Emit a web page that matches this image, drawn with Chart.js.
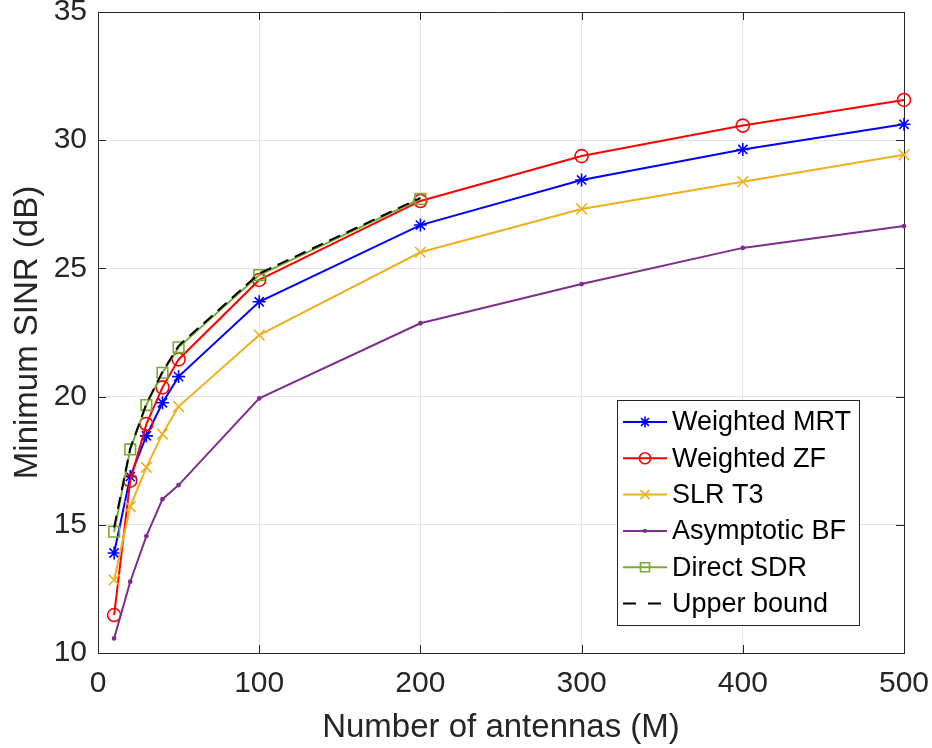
<!DOCTYPE html>
<html>
<head>
<meta charset="utf-8">
<script src="https://cdn.jsdelivr.net/npm/chart.js@4.4.1/dist/chart.umd.min.js"></script>
<style>
html,body{margin:0;padding:0;background:#fff;}
#wrap{width:932px;height:748px;}
</style>
</head>
<body>
<div id="wrap"><canvas id="c" width="932" height="748"></canvas></div>
<script>
// ---- Data ----
const antennas = [10, 20, 30, 40, 50, 100, 200, 300, 400, 500];
const antennasShort = [10, 20, 30, 40, 50, 100, 200];
const weightedMRT = [13.9, 16.88, 18.47, 19.76, 20.78, 23.70, 26.69, 28.45, 29.64, 30.62];
const weightedZF = [11.48, 16.72, 18.93, 20.36, 21.45, 24.55, 27.63, 29.38, 30.57, 31.57];
const slrT3 = [12.85, 15.71, 17.24, 18.54, 19.61, 22.40, 25.63, 27.32, 28.38, 29.43];
const asymptoticBF = [10.57, 12.78, 14.56, 16.0, 16.55, 19.93, 22.86, 24.39, 25.80, 26.65];
const directSDR = [14.73, 17.94, 19.67, 20.93, 21.92, 24.74, 27.71];
const upperBound = [14.9, 17.98, 19.72, 20.97, 21.98, 24.8, 27.75];
const xTicks = [0, 100, 200, 300, 400, 500];
const yTicks = [10, 15, 20, 25, 30, 35];
const seriesNames = ['Weighted MRT', 'Weighted ZF', 'SLR T3', 'Asymptotic BF', 'Direct SDR', 'Upper bound'];

const pts = (xs, ys) => xs.map((x, i) => ({x: x, y: ys[i]}));
const FONT = 'Liberation Sans, Arial, Helvetica, sans-serif';
const AX = '#262626';

const datasets = [
  {label: seriesNames[0], data: pts(antennas, weightedMRT), borderColor: '#0000ff', pointStyle: 'star', pointRadius: 6.5, order: 5},
  {label: seriesNames[1], data: pts(antennas, weightedZF), borderColor: '#ff0000', pointStyle: 'circle', pointRadius: 6.5, order: 4},
  {label: seriesNames[2], data: pts(antennas, slrT3), borderColor: '#edb120', pointStyle: 'crossRot', pointRadius: 7.5, order: 3},
  {label: seriesNames[3], data: pts(antennas, asymptoticBF), borderColor: '#7e2f8e', pointStyle: 'circle', pointRadius: 1.6, pointBackgroundColor: '#7e2f8e', order: 2},
  {label: seriesNames[4], data: pts(antennasShort, directSDR), borderColor: '#77ac30', pointStyle: 'rect', pointRadius: 7.5, order: 1},
  {label: seriesNames[5], data: pts(antennasShort, upperBound), borderColor: '#000000', borderDash: [12, 7], pointRadius: 0, order: 0}
].map(d => Object.assign({
  borderWidth: 2,
  pointBorderWidth: 1.6,
  pointBorderColor: d.borderColor,
  pointBackgroundColor: d.pointBackgroundColor || 'rgba(0,0,0,0)',
  tension: 0,
  fill: false,
  clip: false
}, d));

const boxPlugin = {
  id: 'boxTicks',
  beforeDatasetsDraw(chart) {
    const {ctx, chartArea: a, scales: {x, y}} = chart;
    ctx.save();
    ctx.strokeStyle = AX;
    ctx.lineWidth = 1;
    ctx.beginPath();
    ctx.rect(Math.round(a.left) + 0.5, Math.round(a.top) + 0.5, Math.round(a.right - a.left), Math.round(a.bottom - a.top));
    ctx.stroke();
    const L = 8;
    ctx.beginPath();
    xTicks.forEach(v => {
      const px = Math.round(x.getPixelForValue(v)) + 0.5;
      ctx.moveTo(px, a.bottom); ctx.lineTo(px, a.bottom - L);
      ctx.moveTo(px, a.top); ctx.lineTo(px, a.top + L);
    });
    yTicks.forEach(v => {
      const py = Math.round(y.getPixelForValue(v)) + 0.5;
      ctx.moveTo(a.left, py); ctx.lineTo(a.left + L, py);
      ctx.moveTo(a.right, py); ctx.lineTo(a.right - L, py);
    });
    ctx.stroke();
    ctx.restore();
  }
};

const legendPlugin = {
  id: 'insideLegend',
  afterDraw(chart) {
    const {ctx} = chart;
    const bx = 617.5, by = 400.5, bw = 242, bh = 225;
    ctx.save();
    ctx.fillStyle = '#fff';
    ctx.fillRect(bx, by, bw, bh);
    ctx.strokeStyle = AX;
    ctx.lineWidth = 1;
    ctx.strokeRect(bx, by, bw, bh);
    const rowH = 36.3, y0 = 422;
    chart.data.datasets.forEach((d, i) => {
      const yy = y0 + i * rowH;
      ctx.save();
      ctx.strokeStyle = d.borderColor;
      ctx.lineWidth = 2;
      if (d.borderDash) ctx.setLineDash([13, 12]);
      ctx.beginPath();
      ctx.moveTo(623, yy); ctx.lineTo(667, yy);
      ctx.stroke();
      ctx.restore();
      if (d.pointRadius > 0) {
        ctx.save();
        ctx.setLineDash([]);
        ctx.strokeStyle = d.pointBorderColor;
        ctx.fillStyle = d.pointBackgroundColor;
        ctx.lineWidth = d.pointBorderWidth;
        Chart.helpers.drawPoint(ctx, {pointStyle: d.pointStyle, rotation: 0, radius: d.pointRadius * 0.85, borderWidth: d.pointBorderWidth}, 645, yy);
        ctx.restore();
      }
      ctx.fillStyle = '#000';
      ctx.font = '27px ' + FONT;
      ctx.textBaseline = 'middle';
      ctx.textAlign = 'left';
      ctx.fillText(d.label, 672, yy + 1);
    });
    ctx.restore();
  }
};

Chart.defaults.font.family = FONT;
Chart.defaults.color = AX;

new Chart(document.getElementById('c'), {
  type: 'line',
  data: {datasets: datasets},
  options: {
    responsive: false,
    animation: false,
    layout: {padding: {left: 0, top: 12, right: 28, bottom: 0}},
    plugins: {legend: {display: false}, tooltip: {enabled: false}},
    elements: {point: {radius: 0}},
    scales: {
      x: {
        type: 'linear', min: 0, max: 500,
        afterBuildTicks: s => { s.ticks = xTicks.map(v => ({value: v})); },
        ticks: {font: {size: 30}, color: AX, padding: 13, maxRotation: 0},
        grid: {color: '#e5e5e5', lineWidth: 1, drawTicks: false},
        border: {display: true, color: AX, width: 1},
        title: {display: true, text: 'Number of antennas (M)', font: {size: 33}, color: AX, padding: {top: 0, bottom: 0}},
        afterFit: s => { s.height = 95; s.paddingLeft = 0; s.paddingRight = 0; }
      },
      y: {
        type: 'linear', min: 10, max: 35,
        afterBuildTicks: s => { s.ticks = yTicks.map(v => ({value: v})); },
        ticks: {font: {size: 30}, color: AX, padding: 11},
        grid: {color: '#e5e5e5', lineWidth: 1, drawTicks: false},
        border: {display: true, color: AX, width: 1},
        title: {display: true, text: 'Minimum SINR (dB)', font: {size: 33}, color: AX, padding: {top: 8, bottom: 0}},
        afterFit: s => { s.width = 98; s.paddingTop = 0; s.paddingBottom = 0; }
      }
    }
  },
  plugins: [boxPlugin, legendPlugin]
});
</script>
</body>
</html>
